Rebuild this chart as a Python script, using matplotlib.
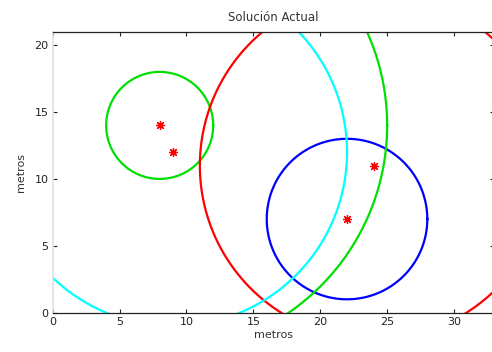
import numpy as np
import matplotlib
matplotlib.use("Agg")
import matplotlib.pyplot as plt

# Circles: center x, center y, radius, color
circle_cx = [8, 22, 24, 9, 8]
circle_cy = [14, 7, 11, 12, 14]
circle_r = [4, 6, 13, 13, 17]
circle_colors = ['#00e000', '#0000ff', '#ff0000', '#00ffff', '#00e000']

# Star points
star_x = [8, 9, 22, 24]
star_y = [14, 12, 7, 11]

title = "Solución Actual"
xlabel = "metros"
ylabel = "metros"
xticks = [0, 5, 10, 15, 20, 25, 30]
yticks = [0, 5, 10, 15, 20]

fig = plt.figure(figsize=(4.92, 3.52), dpi=100)
ax = fig.add_axes([0.107, 0.1117, 0.8975, 0.798])

t = np.linspace(0, 2 * np.pi, 721)
for cx, cy, r, c in zip(circle_cx, circle_cy, circle_r, circle_colors):
    ax.plot(cx + r * np.cos(t), cy + r * np.sin(t), color=c, lw=1.6)

ax.plot(star_x, star_y, linestyle='none', marker=(8, 2, 0), color='#ff0000',
        markersize=6.5, markeredgewidth=0.9)

ax.set_xlim(0, 33)
ax.set_ylim(0, 21)
ax.set_xticks(xticks)
ax.set_yticks(yticks)
ax.tick_params(direction='in', length=3, width=0.8, labelsize=8,
               top=True, right=True, colors='#222222', pad=3)
for side in ['top', 'bottom', 'right']:
    ax.spines[side].set_color('#222222')
    ax.spines[side].set_linewidth(0.9)
ax.spines['left'].set_color('#e0e0e0')
ax.spines['left'].set_linewidth(1.2)

ax.set_title(title, fontsize=8.5, color='#333333', pad=8)
ax.set_xlabel(xlabel, fontsize=8, color='#333333', labelpad=2)
ax.set_ylabel(ylabel, fontsize=8, color='#333333', labelpad=6)

fig.savefig("out.png", dpi=100)
